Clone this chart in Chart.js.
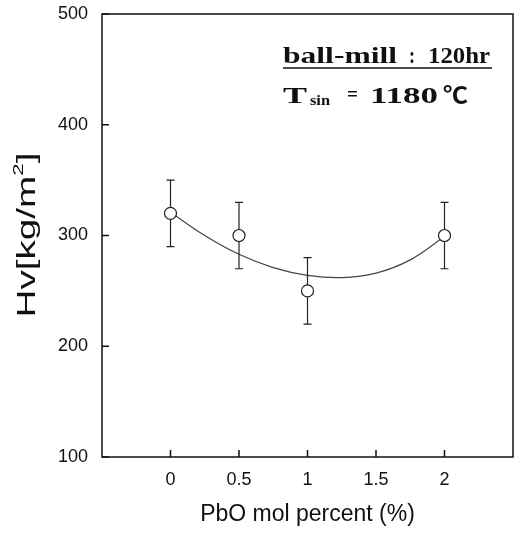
<!DOCTYPE html>
<html>
<head>
<meta charset="utf-8">
<script src="https://cdn.jsdelivr.net/npm/chart.js@4.4.1/dist/chart.umd.min.js"></script>
<style>
  html, body { margin: 0; padding: 0; background: #fff; }
  canvas { display: block; }
</style>
</head>
<body>
<canvas id="hvChart" width="514" height="533"></canvas>
<script>
// measured points
const pbo = [0, 0.5, 1, 2];
const hv = [320, 300, 250, 300];
const hvErr = [30, 30, 30, 30];

// fitted curve
const fitX = [0, 0.25, 0.5, 0.75, 1, 1.25, 1.5, 1.75, 2];
const fitY = [321, 300, 283, 271, 264, 262, 266, 278, 299];

const xTicks = [0, 0.5, 1, 1.5, 2];
const yTicks = [100, 200, 300, 400, 500];

const sans = "'Liberation Sans', Arial, sans-serif";
const serif = "'Liberation Serif', 'Times New Roman', serif";

// draw text squeezed/stretched to a given width
function fitText(ctx, text, x, y, w, font) {
  ctx.save();
  ctx.font = font;
  const m = ctx.measureText(text).width;
  ctx.translate(x, y);
  ctx.scale(w / m, 1);
  ctx.fillText(text, 0, 0);
  ctx.restore();
}

const errorBars = {
  id: "errorBars",
  beforeDatasetDraw(chart, args) {
    if (args.index !== 0) return;
    const { ctx, scales: { x, y } } = chart;
    ctx.save();
    ctx.strokeStyle = "#222";
    ctx.lineWidth = 1.2;
    pbo.forEach((v, i) => {
      const px = x.getPixelForValue(v);
      const top = y.getPixelForValue(hv[i] + hvErr[i]);
      const bot = y.getPixelForValue(hv[i] - hvErr[i]);
      ctx.beginPath();
      ctx.moveTo(px, top); ctx.lineTo(px, bot);
      ctx.moveTo(px - 4, top); ctx.lineTo(px + 4, top);
      ctx.moveTo(px - 4, bot); ctx.lineTo(px + 4, bot);
      ctx.stroke();
    });
    ctx.restore();
  }
};

const frame = {
  id: "frame",
  afterDraw(chart) {
    const { ctx, chartArea: a, scales: { x, y } } = chart;
    ctx.save();
    ctx.strokeStyle = "#111";
    ctx.lineWidth = 1.5;
    ctx.strokeRect(a.left, a.top, a.right - a.left, a.bottom - a.top);
    ctx.beginPath();
    yTicks.forEach(v => {
      const py = y.getPixelForValue(v);
      ctx.moveTo(a.left, py); ctx.lineTo(a.left + 7, py);
    });
    xTicks.forEach(v => {
      const px = x.getPixelForValue(v);
      ctx.moveTo(px, a.bottom); ctx.lineTo(px, a.bottom - 7);
    });
    ctx.stroke();

    // y axis title, stretched like the scan
    ctx.fillStyle = "#111";
    ctx.save();
    ctx.translate(35, 235);
    ctx.rotate(-Math.PI / 2);
    const main = "Hv[kg/m";
    ctx.font = "26px " + sans;
    const w1 = ctx.measureText(main).width;
    ctx.font = "15px " + sans;
    const w2 = ctx.measureText("2").width;
    ctx.font = "26px " + sans;
    const w3 = ctx.measureText("]").width;
    const total = w1 + w2 + w3;
    ctx.scale(165 / total, 1);
    ctx.textBaseline = "alphabetic";
    let cx = -total / 2;
    ctx.fillText(main, cx, 0);
    cx += w1;
    ctx.font = "15px " + sans;
    ctx.fillText("2", cx, -12);
    cx += w2;
    ctx.font = "26px " + sans;
    ctx.fillText("]", cx, 0);
    ctx.restore();

    // annotation
    ctx.textBaseline = "alphabetic";
    const bold = "bold 23px " + serif;
    fitText(ctx, "ball-mill", 283, 63, 114, bold);
    fitText(ctx, ":", 409, 63, 6, bold);
    fitText(ctx, "120hr", 428, 63, 62, bold);
    ctx.lineWidth = 1.3;
    ctx.beginPath();
    ctx.moveTo(283, 68); ctx.lineTo(492, 68);
    ctx.stroke();

    fitText(ctx, "T", 283, 103, 24, "bold 23px " + serif);
    fitText(ctx, "sin", 310, 105, 20, "bold 14px " + serif);
    fitText(ctx, "=", 347, 101, 11, "bold 20px " + serif);
    fitText(ctx, "1180", 370, 103, 68, "bold 23px " + serif);
    fitText(ctx, "℃", 443, 103, 25, "bold 23px 'Noto Sans CJK KR', " + serif);
    ctx.restore();
  }
};

new Chart(document.getElementById("hvChart"), {
  type: "line",
  data: {
    datasets: [
      {
        label: "Hv",
        data: pbo.map((v, i) => ({ x: v, y: hv[i] })),
        showLine: false,
        pointRadius: 6,
        pointStyle: "circle",
        pointBackgroundColor: "#fff",
        pointBorderColor: "#222",
        pointBorderWidth: 1.2
      },
      {
        label: "fit",
        data: fitX.map((v, i) => ({ x: v, y: fitY[i] })),
        borderColor: "#444",
        borderWidth: 1.2,
        pointRadius: 0,
        tension: 0.4,
        fill: false
      }
    ]
  },
  options: {
    responsive: false,
    animation: false,
    devicePixelRatio: 1,
    layout: { autoPadding: false, padding: { top: 14, right: 1, left: 0, bottom: 0 } },
    plugins: { legend: { display: false }, tooltip: { enabled: false } },
    scales: {
      x: {
        type: "linear",
        min: -0.5,
        max: 2.5,
        afterBuildTicks: s => { s.ticks = xTicks.map(v => ({ value: v })); },
        afterFit: s => { s.height = 76; s.paddingLeft = 0; s.paddingRight = 0; },
        grid: { display: false, drawTicks: false },
        border: { display: false },
        ticks: {
          padding: 12,
          color: "#111",
          font: { family: sans, size: 18 },
          callback: v => String(v)
        },
        title: {
          display: true,
          text: "PbO mol percent (%)",
          color: "#111",
          font: { family: sans, size: 23 },
          padding: { top: 0, bottom: 5 }
        }
      },
      y: {
        min: 100,
        max: 500,
        afterBuildTicks: s => { s.ticks = yTicks.map(v => ({ value: v })); },
        afterFit: s => { s.width = 102; s.paddingTop = 0; s.paddingBottom = 0; },
        grid: { display: false, drawTicks: false },
        border: { display: false },
        ticks: {
          padding: 14,
          color: "#111",
          font: { family: sans, size: 18 }
        }
      }
    }
  },
  plugins: [errorBars, frame]
});
</script>
</body>
</html>
